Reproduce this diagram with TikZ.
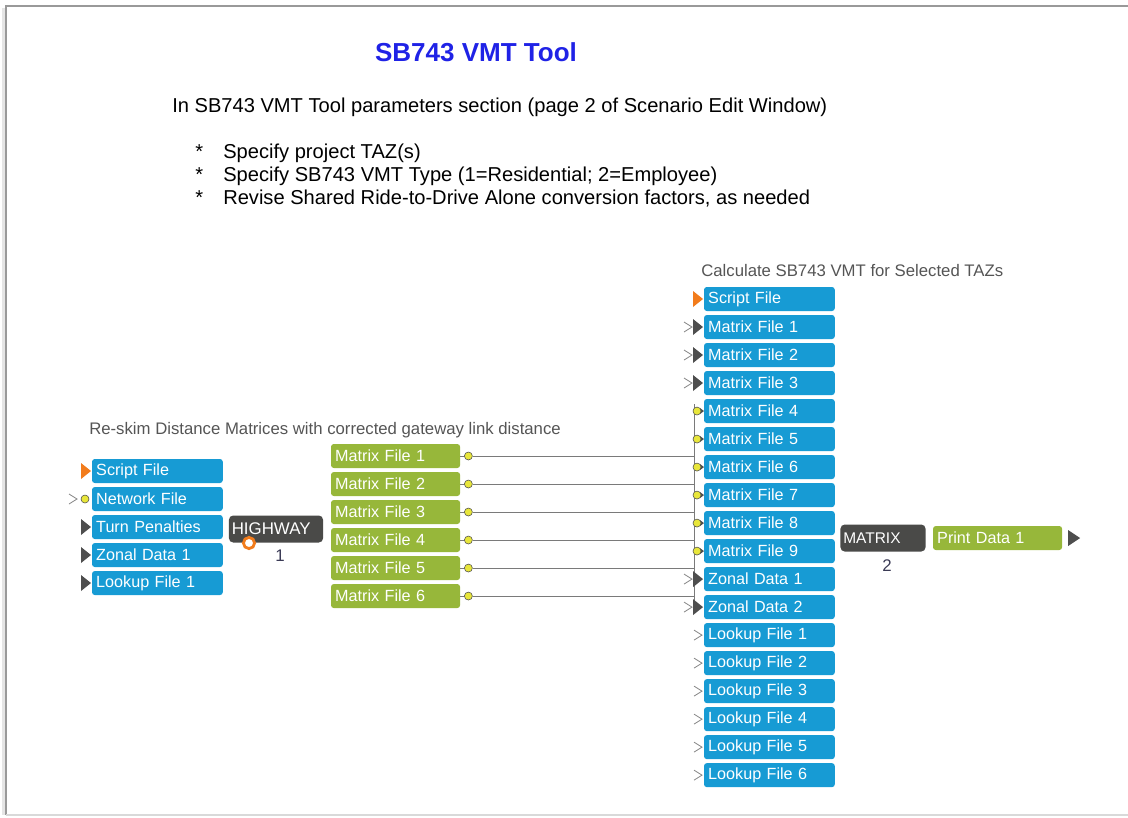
\documentclass[tikz,border=0pt]{standalone}
\usepackage{fontspec}
\setmainfont{Liberation Sans}
\usetikzlibrary{positioning,calc}
\definecolor{CubeBlue}{HTML}{179BD4}
\definecolor{CubeGreen}{HTML}{97B73A}
\definecolor{ProgGray}{HTML}{4A4A48}
\definecolor{CubeOrange}{HTML}{F27C1C}
\definecolor{PlugYellow}{HTML}{E8E63A}
\definecolor{TipDark}{HTML}{4E4E4E}
\definecolor{ChevGray}{HTML}{8A8A8A}
\definecolor{WireGray}{HTML}{7A7A7A}
\definecolor{NoteGray}{HTML}{555555}
\definecolor{TitleBlue}{HTML}{1F22E6}
\definecolor{NumNavy}{HTML}{3A3A55}

% input and output marks, drawn at a node's west/east side
\newcommand{\intip}[2][TipDark]{\fill[#1,shift={(#2.west)}] (-11,-8) -- (-1,0) -- (-11,8) -- cycle;}
\newcommand{\inchev}[2][-12]{\draw[ChevGray,line width=0.6pt,shift={(#2.west)}] ($(#1,-5)+(-8,0)$) -- (#1,0) -- ($(#1,5)+(-8,0)$);}
\newcommand{\inplug}[1]{\fill[TipDark,shift={(#1.west)}] (-4,-3) -- (0,0) -- (-4,3) -- cycle;
  \draw[TipDark,line width=0.4pt,fill=PlugYellow,shift={(#1.west)}] (-7,0) circle (4);}

\begin{document}
\begin{tikzpicture}[x=0.025cm,y=-0.025cm,
    node distance=0.1cm,
    inbox/.style={fill=CubeBlue,text=white,rounded corners=2pt,minimum height=0.6cm,
                  text width=87pt,inner xsep=3pt,inner ysep=0pt,outer sep=0pt,align=left,
                  font=\fontsize{11.5}{12}\selectfont},
    outbox/.style={inbox,fill=CubeGreen,text width=85.8pt},
    prog/.style={fill=ProgGray,text=white,rounded corners=3pt,minimum height=0.675cm,
                 inner xsep=2pt,inner ysep=0pt,align=left},
    ring/.style={circle,draw=CubeOrange,line width=2pt,fill=white,minimum size=0.28cm,inner sep=0pt},
    plug/.style={circle,draw=TipDark,line width=0.4pt,fill=PlugYellow,minimum size=0.2cm,inner sep=0pt},
    num/.style={text=NumNavy,font=\fontsize{12}{14}\selectfont,inner sep=0pt},
    note/.style={inner sep=0pt,anchor=west,font=\fontsize{14.3}{16}\selectfont},
    lbl/.style={inner sep=0pt,anchor=west,text=NoteGray,font=\fontsize{11.9}{13}\selectfont},
    wire/.style={WireGray,line width=0.7pt},
  ]
  \useasboundingbox (0,0) rectangle (1128,817);
  % page frame
  \fill[black!10] (2,8) rectangle (6,815);
  \draw[black!40,line width=0.8pt] (6,815) -- (6,6) -- (1128,6);
  \draw[black!15,line width=0.8pt] (6,815) -- (1128,815);

  % heading
  \node[text=TitleBlue,font=\fontsize{18.5}{20}\selectfont\bfseries] (ttl) at (476,52) {SB743 VMT Tool};
  \node[note] (sub) at (172,107) {In SB743 VMT Tool parameters section (page 2 of Scenario Edit Window)};
  \node[note] (bl1) at (195,153) {\makebox[0.7cm][l]{*}Specify project TAZ(s)};
  \node[note] (bl2) at (195,176) {\makebox[0.7cm][l]{*}Specify SB743 VMT Type (1=Residential; 2=Employee)};
  \node[note] (bl3) at (195,198) {\makebox[0.7cm][l]{*}Revise Shared Ride-to-Drive Alone conversion factors, as needed};

  % step 1: HIGHWAY
  \node[lbl] (lbl1) at (89,430) {Re-skim Distance Matrices with corrected gateway link distance};
  \node[inbox,anchor=west] (lsc) at (92,471) {Script File};
  \node[inbox,below=of lsc] (lnet) {Network File};
  \node[inbox,below=of lnet] (lturn) {Turn Penalties};
  \node[inbox,below=of lturn] (lzon) {Zonal Data 1};
  \node[inbox,below=of lzon] (llook) {Lookup File 1};
  \intip[CubeOrange]{lsc}
  \inchev[-15]{lnet}
  \draw[TipDark,line width=0.4pt,fill=PlugYellow,shift={(lnet.west)}] (-7,0) circle (4);
  \intip{lturn}
  \intip{lzon}
  \intip{llook}

  \node[prog,minimum width=2.35cm,text width=62.9pt,font=\fontsize{12}{14}\selectfont] (hwy) at (276,529) {HIGHWAY};
  \node[ring] (hring) at (249,543) {};
  \node[num] (hnum) at (280,556) {1};

  \node[outbox,anchor=west] (om1) at (331,456) {Matrix File 1};
  \node[outbox,below=of om1] (om2) {Matrix File 2};
  \node[outbox,below=of om2] (om3) {Matrix File 3};
  \node[outbox,below=of om3] (om4) {Matrix File 4};
  \node[outbox,below=of om4] (om5) {Matrix File 5};
  \node[outbox,below=of om5] (om6) {Matrix File 6};
  \node[plug,right=0.1cm of om1] (p1) {};
  \node[plug,right=0.1cm of om2] (p2) {};
  \node[plug,right=0.1cm of om3] (p3) {};
  \node[plug,right=0.1cm of om4] (p4) {};
  \node[plug,right=0.1cm of om5] (p5) {};
  \node[plug,right=0.1cm of om6] (p6) {};

  % step 2: MATRIX
  \node[lbl] (lbl2) at (701,271) {Calculate SB743 VMT for Selected TAZs};
  \node[inbox,anchor=west] (rsc) at (704,299) {Script File};
  \node[inbox,below=of rsc] (rm1) {Matrix File 1};
  \node[inbox,below=of rm1] (rm2) {Matrix File 2};
  \node[inbox,below=of rm2] (rm3) {Matrix File 3};
  \node[inbox,below=of rm3] (rm4) {Matrix File 4};
  \node[inbox,below=of rm4] (rm5) {Matrix File 5};
  \node[inbox,below=of rm5] (rm6) {Matrix File 6};
  \node[inbox,below=of rm6] (rm7) {Matrix File 7};
  \node[inbox,below=of rm7] (rm8) {Matrix File 8};
  \node[inbox,below=of rm8] (rm9) {Matrix File 9};
  \node[inbox,below=of rm9] (rz1) {Zonal Data 1};
  \node[inbox,below=of rz1] (rz2) {Zonal Data 2};
  \node[inbox,below=of rz2] (rl1) {Lookup File 1};
  \node[inbox,below=of rl1] (rl2) {Lookup File 2};
  \node[inbox,below=of rl2] (rl3) {Lookup File 3};
  \node[inbox,below=of rl3] (rl4) {Lookup File 4};
  \node[inbox,below=of rl4] (rl5) {Lookup File 5};
  \node[inbox,below=of rl5] (rl6) {Lookup File 6};

  \node[prog,minimum width=2.125cm,text width=56.5pt,font=\fontsize{11}{13}\selectfont] (mat) at (883,538) {MATRIX};
  \node[num] (mnum) at (887,566) {2};
  \node[outbox,anchor=west] (prt) at (933,538) {Print Data 1};
  \fill[TipDark] ([xshift=0.15cm]prt.east) ++(0,-8) -- ++(12,8) -- ++(-12,8) -- cycle;

  % bus between the steps
  \coordinate (bustop) at (694,404);
  \coordinate (busbot) at (rz2.west -| bustop);
  \coordinate (b1) at (p1 -| bustop);
  \coordinate (b2) at (p2 -| bustop);
  \coordinate (b3) at (p3 -| bustop);
  \coordinate (b4) at (p4 -| bustop);
  \coordinate (b5) at (p5 -| bustop);
  \coordinate (b6) at (p6 -| bustop);
  \draw[wire] (om1) -- (p1) -- (b1);
  \draw[wire] (om2) -- (p2) -- (b2);
  \draw[wire] (om3) -- (p3) -- (b3);
  \draw[wire] (om4) -- (p4) -- (b4);
  \draw[wire] (om5) -- (p5) -- (b5);
  \draw[wire] (om6) -- (p6) -- (b6);
  \draw[wire] (bustop) -- (busbot);

  \intip[CubeOrange]{rsc}
  \inchev{rm1} \intip{rm1}
  \inchev{rm2} \intip{rm2}
  \inchev{rm3} \intip{rm3}
  \inplug{rm4} \inplug{rm5} \inplug{rm6}
  \inplug{rm7} \inplug{rm8} \inplug{rm9}
  \inchev{rz1} \intip{rz1}
  \inchev{rz2} \intip{rz2}
  \inchev[-2]{rl1} \inchev[-2]{rl2} \inchev[-2]{rl3}
  \inchev[-2]{rl4} \inchev[-2]{rl5} \inchev[-2]{rl6}
\end{tikzpicture}
\end{document}
